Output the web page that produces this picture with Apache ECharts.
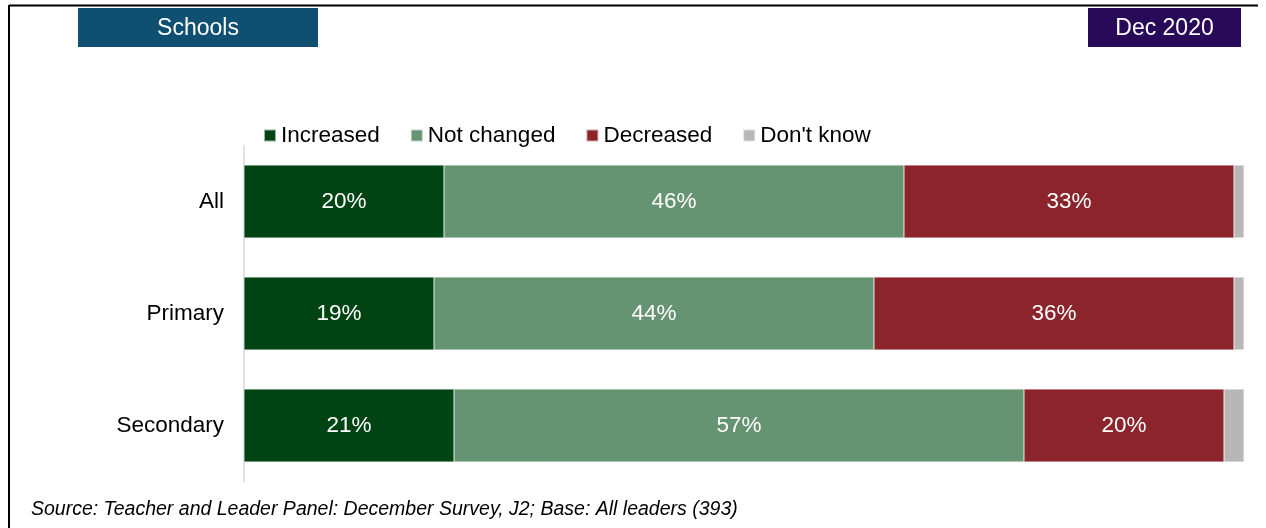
<!DOCTYPE html>
<html>
<head>
<meta charset="utf-8">
<script src="https://cdn.jsdelivr.net/npm/echarts@6/dist/echarts.min.js"></script>
<style>
html,body{margin:0;padding:0;background:#fff;}
#chart{width:1266px;height:528px;}
</style>
</head>
<body>
<div id="chart"></div>
<script>
var categories = ['All', 'Primary', 'Secondary'];
var seriesNames = ['Increased', 'Not changed', 'Decreased', "Don't know"];
var increased = [20, 19, 21];
var notChanged = [46, 44, 57];
var decreased = [33, 36, 20];
var dontKnow = [1, 1, 2];
var colors = ['#004414', '#669372', '#8B252B', '#B7B7B7'];

var font = '"Liberation Sans", Arial, sans-serif';
var chart = echarts.init(document.getElementById('chart'));

function mk(name, data, color, showLabel) {
  return {
    name: name,
    type: 'bar',
    stack: 'total',
    data: data,
    barCategoryGap: '35%',
    itemStyle: { color: color, borderColor: 'rgba(255,255,255,0.6)', borderWidth: 0.5 },
    label: {
      show: showLabel,
      position: 'inside',
      formatter: '{c}%',
      color: '#fff',
      fontSize: 22.5,
      fontFamily: font
    },
    emphasis: { disabled: true }
  };
}

chart.setOption({
  animation: false,
  color: colors,
  grid: { left: 244, right: 22, top: 145.5, bottom: 46.5 },
  legend: {
    left: 258,
    top: 119,
    itemWidth: 12,
    itemHeight: 12,
    itemGap: 30,
    icon: 'rect',
    textStyle: { fontSize: 22.5, fontFamily: font, color: '#000' },
    data: seriesNames
  },
  xAxis: {
    type: 'value',
    min: 0,
    max: 100,
    show: false
  },
  yAxis: {
    type: 'category',
    inverse: true,
    data: categories,
    axisLine: { show: true, lineStyle: { color: '#d9d9d9', width: 1.5 } },
    axisTick: { show: false },
    axisLabel: { fontSize: 22.5, fontFamily: font, color: '#000', margin: 20 }
  },
  series: [
    mk(seriesNames[0], increased, colors[0], true),
    mk(seriesNames[1], notChanged, colors[1], true),
    mk(seriesNames[2], decreased, colors[2], true),
    mk(seriesNames[3], dontKnow, colors[3], false)
  ],
  graphic: [
    { type: 'line', shape: { x1: 9, y1: 5.5, x2: 1258, y2: 5.5 }, style: { stroke: '#000', lineWidth: 2 } },
    { type: 'line', shape: { x1: 9, y1: 5, x2: 9, y2: 528 }, style: { stroke: '#000', lineWidth: 2 } },
    { type: 'rect', shape: { x: 78, y: 8, width: 240, height: 39 }, style: { fill: '#0F4F72' } },
    { type: 'text', x: 198, y: 29, style: { text: 'Schools', fill: '#fff', font: '23px ' + font, textAlign: 'center', textVerticalAlign: 'middle' } },
    { type: 'rect', shape: { x: 1088, y: 8, width: 153, height: 39 }, style: { fill: '#290A58' } },
    { type: 'text', x: 1164.5, y: 29, style: { text: 'Dec 2020', fill: '#fff', font: '23px ' + font, textAlign: 'center', textVerticalAlign: 'middle' } },
    { type: 'text', x: 31, y: 510, style: { text: 'Source: Teacher and Leader Panel: December Survey, J2; Base: All leaders (393)', fill: '#000', font: 'italic 19.5px ' + font, textAlign: 'left', textVerticalAlign: 'middle' } }
  ]
});
</script>
</body>
</html>
